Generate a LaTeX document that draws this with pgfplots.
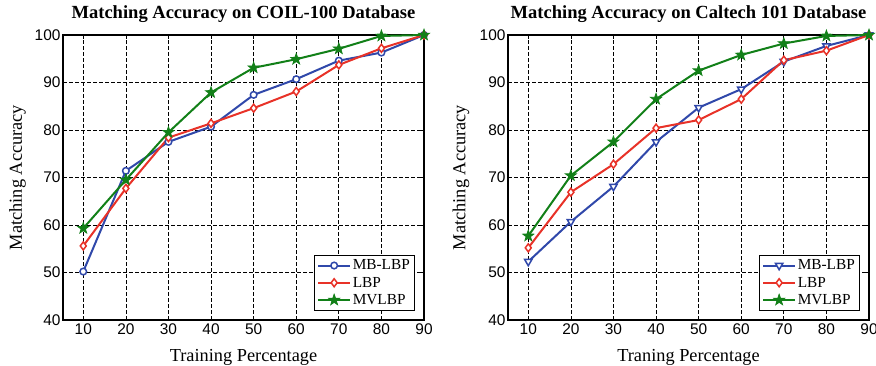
\documentclass[border=0pt]{standalone}
\usepackage{fontspec}
\setmainfont{Liberation Serif}
\newfontfamily\tickfont{Liberation Sans}
\usepackage{pgfplots}
\pgfplotsset{compat=1.18}
\definecolor{cblue}{RGB}{48,72,170}
\definecolor{cred}{RGB}{232,50,40}
\definecolor{cgreen}{RGB}{18,128,24}
\pgfdeclareplotmark{pstar}{%
  \pgfpathmoveto{\pgfpointpolar{90}{1.25\pgfplotmarksize}}%
  \pgfpathlineto{\pgfpointpolar{126}{0.5\pgfplotmarksize}}%
  \pgfpathlineto{\pgfpointpolar{162}{1.25\pgfplotmarksize}}%
  \pgfpathlineto{\pgfpointpolar{198}{0.5\pgfplotmarksize}}%
  \pgfpathlineto{\pgfpointpolar{234}{1.25\pgfplotmarksize}}%
  \pgfpathlineto{\pgfpointpolar{270}{0.5\pgfplotmarksize}}%
  \pgfpathlineto{\pgfpointpolar{306}{1.25\pgfplotmarksize}}%
  \pgfpathlineto{\pgfpointpolar{342}{0.5\pgfplotmarksize}}%
  \pgfpathlineto{\pgfpointpolar{18}{1.25\pgfplotmarksize}}%
  \pgfpathlineto{\pgfpointpolar{54}{0.5\pgfplotmarksize}}%
  \pgfpathclose\pgfusepathqfillstroke}
\pgfplotsset{myaxis/.style={
  scale only axis, width=361bp, height=285bp,
  xmin=5.24, xmax=90, ymin=40, ymax=100,
  xtick={10,20,...,90}, ytick={40,50,...,100},
  grid=major,
  major grid style={black, dash pattern=on 3.5bp off 2.5bp, line width=0.7bp},
  axis line style={black, line width=1.1bp},
  tick align=inside, tick style={black, line width=0.7bp}, major tick length=4bp,
  ticklabel style={font=\tickfont\fontsize{15.5}{15.5}\selectfont},
  yticklabel style={xshift=1bp},
  /pgf/number format/assume math mode=true,
  title style={font=\bfseries\fontsize{18.6}{18.6}\selectfont, at={(axis description cs:0.5,1.053)}, anchor=center},
  label style={font=\fontsize{18.4}{18.4}\selectfont},
  xlabel style={at={(axis description cs:0.5,-0.133)}, anchor=center},
  ylabel style={at={(axis description cs:-0.126,0.5)}, anchor=center, rotate=0},
  legend style={at={(0.975,0.032)}, anchor=south east, draw=black, line width=1bp,
    font=\fontsize{15.4}{18.5}\selectfont, inner sep=3bp, row sep=2.5bp,
    nodes={inner sep=1.6bp}},
  legend cell align=left,
  legend image code/.code={\draw[mark repeat=2, mark phase=2] plot coordinates {(0bp,0bp)(16bp,0bp)(32bp,0bp)};},
  clip=false,
}}
\begin{document}
\begin{tikzpicture}
\useasboundingbox (0,0) rectangle (876bp,366bp);
\begin{axis}[myaxis, at={(63bp,46bp)}, anchor=south west,
  title={Matching Accuracy on COIL-100 Database},
  xlabel={Training Percentage}, ylabel={Matching Accuracy}]
\addplot[cblue, line width=2bp, mark=*, mark size=3.3bp, mark options={fill=white, line width=1.5bp}] coordinates {
(10,50.2)(20,71.4)(30,77.5)(40,80.7)(50,87.4)(60,90.7)(70,94.6)(80,96.3)(90,100)};
\addlegendentry{MB-LBP}
\addplot[cred, line width=2bp, mark=diamond*, mark size=4bp, mark options={fill=white, line width=1.5bp}] coordinates {
(10,55.6)(20,67.7)(30,78.4)(40,81.4)(50,84.6)(60,88.1)(70,93.7)(80,97.2)(90,100)};
\addlegendentry{LBP}
\addplot[cgreen, line width=2bp, mark=pstar, mark size=4.6bp, mark options={fill=cgreen, line width=0.8bp}] coordinates {
(10,59.3)(20,69.5)(30,79.5)(40,87.9)(50,93.1)(60,94.9)(70,97.1)(80,99.8)(90,100)};
\addlegendentry{MVLBP}
\end{axis}
\begin{axis}[myaxis, at={(508bp,46bp)}, anchor=south west,
  title={Matching Accuracy on Caltech 101 Database},
  xlabel={Traning Percentage}, ylabel={Matching Accuracy},
  ylabel style={at={(axis description cs:-0.13,0.5)}}]
\addplot[cblue, line width=2bp, mark=triangle*, mark size=4.2bp, mark options={rotate=180, fill=white, line width=1.5bp}] coordinates {
(10,52.3)(20,60.7)(30,68.1)(40,77.5)(50,84.7)(60,88.6)(70,94.4)(80,97.7)(90,100)};
\addlegendentry{MB-LBP}
\addplot[cred, line width=2bp, mark=diamond*, mark size=4bp, mark options={fill=white, line width=1.5bp}] coordinates {
(10,55.2)(20,66.9)(30,72.8)(40,80.4)(50,82.1)(60,86.5)(70,94.7)(80,96.7)(90,100)};
\addlegendentry{LBP}
\addplot[cgreen, line width=2bp, mark=pstar, mark size=4.6bp, mark options={fill=cgreen, line width=0.8bp}] coordinates {
(10,57.7)(20,70.4)(30,77.5)(40,86.5)(50,92.5)(60,95.8)(70,98.2)(80,99.8)(90,100)};
\addlegendentry{MVLBP}
\end{axis}
\end{tikzpicture}
\end{document}
